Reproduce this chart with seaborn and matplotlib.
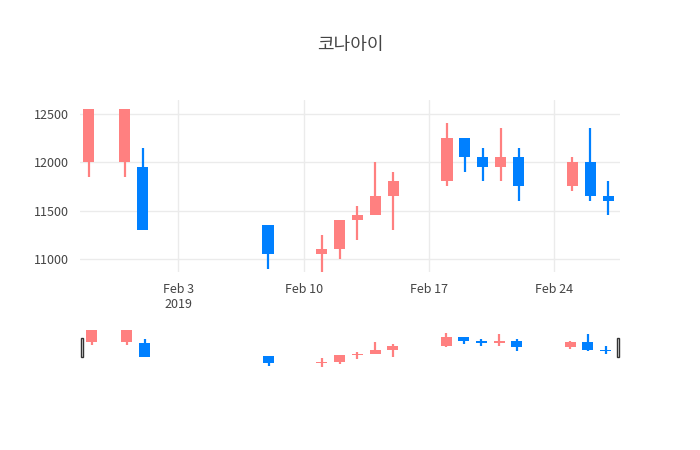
import matplotlib
matplotlib.use("Agg")
import matplotlib.pyplot as plt
import matplotlib.dates as mdates
import seaborn as sns
import pandas as pd

dates = ["2019-01-29", "2019-01-31", "2019-02-01", "2019-02-08", "2019-02-11", "2019-02-12",
         "2019-02-13", "2019-02-14", "2019-02-15", "2019-02-18", "2019-02-19", "2019-02-20",
         "2019-02-21", "2019-02-22", "2019-02-25", "2019-02-26", "2019-02-27"]
opens = [12000, 12000, 11950, 11350, 11050, 11100, 11400, 11450, 11650, 11800, 12250, 12050,
         11950, 12050, 11750, 12000, 11650]
highs = [12550, 12550, 12150, 11350, 11250, 11400, 11550, 12000, 11900, 12400, 12250, 12150,
         12350, 12150, 12050, 12350, 11800]
lows = [11850, 11850, 11300, 10900, 10850, 11000, 11200, 11450, 11300, 11750, 11900, 11800,
        11800, 11600, 11700, 11600, 11450]
closes = [12550, 12550, 11300, 11050, 11100, 11400, 11450, 11650, 11800, 12250, 12050, 11950,
          12050, 11750, 12000, 11650, 11600]

df = pd.DataFrame({"date": pd.to_datetime(dates), "open": opens, "high": highs,
                   "low": lows, "close": closes})
df["x"] = mdates.date2num(df["date"])

sns.set_style("white")
plt.rcParams['font.family'] = ['Noto Sans CJK KR', 'DejaVu Sans']

UP = "#FF8080"
DOWN = "#0080FF"

fig = plt.figure(figsize=(7, 4.5), dpi=100)
ax = fig.add_axes([80 / 700, 178 / 450, 540 / 700, 172 / 450])
ax2 = fig.add_axes([80 / 700, 82 / 450, 540 / 700, 40 / 450])

xmin = mdates.date2num(pd.Timestamp("2019-01-28 12:00"))
xmax = mdates.date2num(pd.Timestamp("2019-02-27 16:00"))


def draw(a, lw, width):
    for _, r in df.iterrows():
        c = UP if r["close"] >= r["open"] else DOWN
        a.vlines(r["x"], r["low"], r["high"], color=c, lw=lw, zorder=2)
        lo, hi = sorted([r["open"], r["close"]])
        a.bar(r["x"], max(hi - lo, 8), bottom=lo, width=width, color=c,
              linewidth=0, zorder=3)


draw(ax, 1.6, 0.62)
ax.set_xlim(xmin, xmax)
ax.set_ylim(10866, 12640)
ax.set_yticks([11000, 11500, 12000, 12500])
ax.set_yticklabels(["11000", "11500", "12000", "12500"])
ticks = mdates.date2num(pd.to_datetime(["2019-02-03", "2019-02-10", "2019-02-17", "2019-02-24"]))
ax.set_xticks(ticks)
ax.set_xticklabels(["Feb 3\n2019", "Feb 10", "Feb 17", "Feb 24"])
ax.grid(True, color="#EBEBEB", lw=1)
for s in ax.spines.values():
    s.set_visible(False)
ax.tick_params(length=0, labelsize=9, colors="#444444", pad=8)

draw(ax2, 1.6, 0.62)
ax2.set_xlim(xmin - 0.15, xmax + 0.15)
ax2.set_ylim(10800, 12650)
ax2.set_xticks([])
ax2.set_yticks([])
for s in ax2.spines.values():
    s.set_visible(False)
for hx in [xmin - 0.05, xmax + 0.05]:
    ax2.add_patch(plt.Rectangle((hx - 0.07, 11300), 0.14, 900, facecolor="white",
                                edgecolor="#333333", lw=1, zorder=5, clip_on=False))

fig.suptitle("코나아이", x=0.5, y=0.92, fontsize=13, color="#444444")
fig.savefig("out.png", dpi=100)
